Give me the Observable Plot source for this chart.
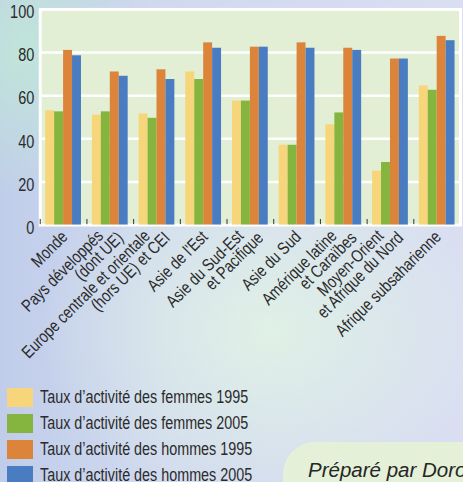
<!DOCTYPE html>
<html>
<head>
<meta charset="utf-8">
<script src="https://cdn.jsdelivr.net/npm/d3@7"></script>
<script src="https://cdn.jsdelivr.net/npm/@observablehq/plot@0.6"></script>
<style>
  html, body { margin: 0; padding: 0; width: 463px; height: 482px; overflow: hidden; }
  body {
    position: relative;
    font-family: "Liberation Sans", Arial, sans-serif;
    color: #2b2b2b;
    background:
      radial-gradient(ellipse 110px 150px at 25px 50px, rgba(192,230,216,0.95), rgba(192,230,216,0) 100%),
      radial-gradient(ellipse 230px 190px at 270px 330px, rgba(224,241,230,1), rgba(224,241,230,0) 100%),
      linear-gradient(90deg, #c0cdea 0%, #d0d9ef 35%, #d9def2 100%);
  }
  #chart svg { display: block; overflow: visible; }
  #legend { position: absolute; left: 7px; top: 388px; }
  .row { display: flex; align-items: center; height: 18.5px; margin-bottom: 7.5px; }
  .sw { width: 25.5px; height: 18.5px; margin-right: 7px; flex: none; }
  .lab { font-size: 17.5px; white-space: nowrap; transform: scaleX(0.82); transform-origin: left center; }
  .credit {
    position: absolute; left: 283px; top: 442px; width: 260px; height: 70px;
    border-radius: 32px; background: #e4f0d7;
  }
  .credit span {
    position: absolute; left: 25px; top: 16px; white-space: nowrap;
    font-family: "Liberation Sans", Arial, sans-serif; font-style: italic; font-size: 20.5px; color: #262626;
  }
</style>
</head>
<body>
<div id="chart"></div>
<div id="legend"></div>
<div class="credit"><span>Préparé par Doro</span></div>
<script>
const regions = [
  "Monde",
  "Pays développés\n(dont UE)",
  "Europe centrale et orientale\n(hors UE) et CEI",
  "Asie de l'Est",
  "Asie du Sud-Est\net Pacifique",
  "Asie du Sud",
  "Amérique latine\net Caraïbes",
  "Moyen-Orient\net Afrique du Nord",
  "Afrique subsaharienne"
];
const series = [
  "Taux d’activité des femmes 1995",
  "Taux d’activité des femmes 2005",
  "Taux d’activité des hommes 1995",
  "Taux d’activité des hommes 2005"
];
const colors = ["#f7d57a", "#86b53f", "#db843a", "#4a7cc1"];
const femmes1995 = [53, 51, 51.5, 71, 57.5, 37, 46.5, 25, 64.5];
const femmes2005 = [52.5, 52.5, 49.5, 67.5, 57.5, 37, 52, 29, 62.5];
const hommes1995 = [81, 71, 72, 84.5, 82.5, 84.5, 82, 77, 87.5];
const hommes2005 = [78.5, 69, 67.5, 82, 82.5, 82, 81, 77, 85.5];
const yTicks = [0, 20, 40, 60, 80, 100];

const valuesBySeries = [femmes1995, femmes2005, hommes1995, hommes2005];
const data = regions.flatMap((r, i) => series.map((s, j) => ({region: r, series: s, value: valuesBySeries[j][i]})));
const labelLines = regions.flatMap(r => {
  const ls = r.split("\n");
  return ls.map((t, i) => ({region: r, text: t, i, n: ls.length}));
});

const lineSymbol = {draw(ctx, size) { const r = Math.sqrt(size / Math.PI); ctx.moveTo(0, -r); ctx.lineTo(0, r); }};
const font = "'Liberation Sans', Arial, sans-serif";
const textFill = "#2b2b2b";

const labelMark = (filter, dx, dy) => Plot.text(labelLines.filter(filter), {
  fx: "region", text: "text", frameAnchor: "bottom", rotate: -45, textAnchor: "end",
  dx, dy, fontSize: 17.5, fill: textFill, fontFamily: font
});

const chart = Plot.plot({
  width: 466,
  height: 380,
  marginTop: 9,
  marginLeft: 38.5,
  marginRight: 1,
  marginBottom: 154,
  style: {background: "transparent", fontFamily: font, overflow: "visible"},
  fx: {domain: regions, padding: 0, axis: null, label: null},
  x: {domain: series, paddingInner: 0, paddingOuter: 0.55, axis: null},
  y: {domain: [0, 100], axis: null},
  color: {domain: series, range: colors},
  marks: [
    Plot.frame({facet: "super", fill: "#e2efd5", stroke: "white", strokeWidth: 3}),
    Plot.gridY(yTicks.filter(d => d > 0 && d < 100), {stroke: "white", strokeOpacity: 1, strokeWidth: 2.5}),
    Plot.barY(data, {fx: "region", x: "series", y: "value", fill: "series"}),
    Plot.dot([0], {x: null, y: null, frameAnchor: "bottom-left", symbol: lineSymbol, r: 2.6, stroke: "#333", strokeWidth: 1, dy: -3.5}),
    Plot.axisY(yTicks, {tickSize: 0, tickPadding: 6, fontSize: 18, dy: 3, fill: textFill, label: null}),
    labelMark(d => d.n === 1, 5, 13),
    labelMark(d => d.n === 2 && d.i === 0, -6, 12),
    labelMark(d => d.n === 2 && d.i === 1, 14, 14)
  ]
});
document.getElementById("chart").append(chart);

// narrow (condensed) look, like the original's Arial Narrow-style lettering
chart.querySelectorAll("text").forEach(t => {
  const w = t.getComputedTextLength();
  if (w > 0) {
    t.setAttribute("textLength", (w * 0.81).toFixed(2));
    t.setAttribute("lengthAdjust", "spacingAndGlyphs");
  }
});

const legend = document.getElementById("legend");
series.forEach((s, j) => {
  const row = document.createElement("div");
  row.className = "row";
  const sw = document.createElement("div");
  sw.className = "sw";
  sw.style.background = colors[j];
  const lab = document.createElement("div");
  lab.className = "lab";
  lab.textContent = s;
  row.append(sw, lab);
  legend.append(row);
});
</script>
</body>
</html>
